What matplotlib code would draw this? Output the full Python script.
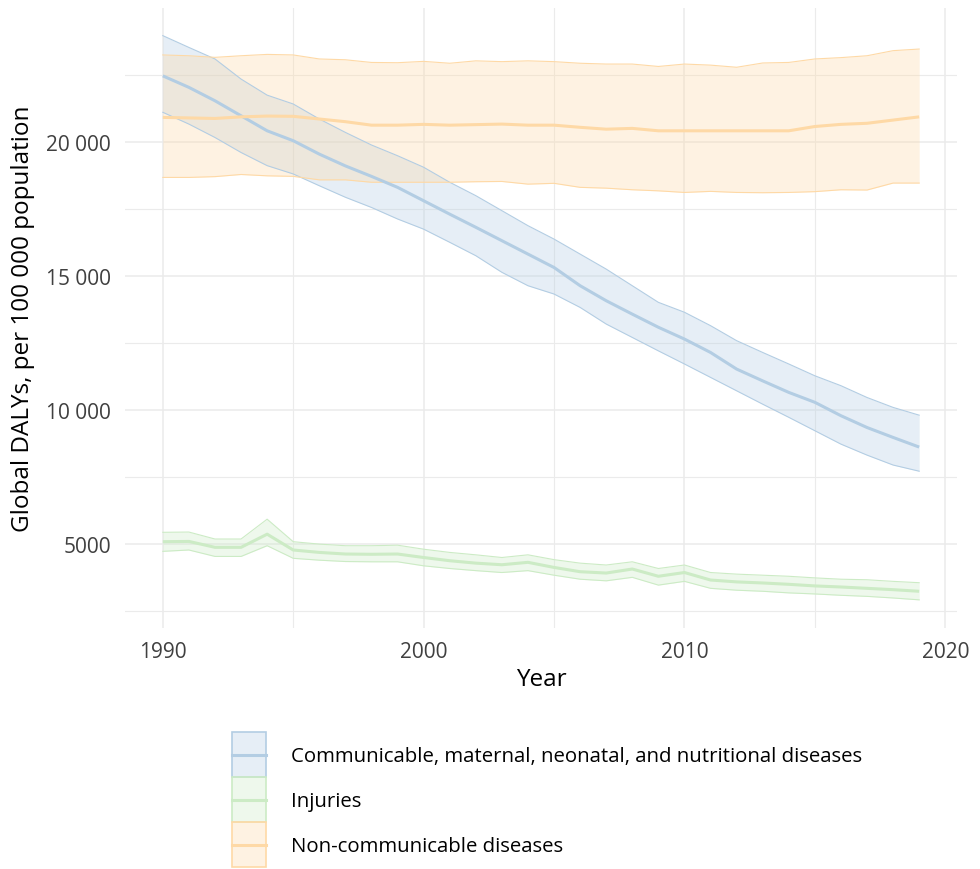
import matplotlib
matplotlib.use("Agg")
import matplotlib.pyplot as plt
from matplotlib.colors import to_rgba
from matplotlib.lines import Line2D
from matplotlib.patches import Rectangle

plt.rcParams['font.family'] = ['Open Sans', 'DejaVu Sans']

years = list(range(1990, 2020))

# Communicable, maternal, neonatal, and nutritional diseases
cmnn_mean = [22470, 22040, 21540, 20980, 20420, 20050, 19550, 19110, 18720, 18310,
             17810, 17310, 16820, 16320, 15820, 15320, 14640, 14080, 13580, 13090,
             12650, 12150, 11530, 11090, 10660, 10290, 9790, 9350, 8980, 8620]
cmnn_upper = [23970, 23530, 23100, 22350, 21750, 21420, 20860, 20360, 19890, 19490,
              19060, 18500, 18000, 17440, 16880, 16380, 15820, 15260, 14640, 14020,
              13650, 13150, 12590, 12150, 11720, 11280, 10910, 10470, 10100, 9810]
cmnn_lower = [21110, 20670, 20170, 19610, 19120, 18810, 18370, 17940, 17560, 17130,
              16750, 16260, 15760, 15140, 14640, 14330, 13830, 13210, 12710, 12210,
              11720, 11220, 10720, 10220, 9730, 9230, 8730, 8320, 7950, 7720]

# Injuries
inj_mean = [5090, 5100, 4880, 4880, 5370, 4780, 4690, 4630, 4620, 4630,
            4500, 4380, 4290, 4230, 4320, 4130, 3970, 3920, 4070, 3800,
            3940, 3660, 3590, 3550, 3500, 3440, 3400, 3350, 3300, 3240]
inj_upper = [5440, 5450, 5190, 5190, 5930, 5090, 5000, 4940, 4940, 4960,
             4810, 4690, 4600, 4500, 4600, 4420, 4290, 4220, 4340, 4090,
             4220, 3940, 3880, 3840, 3800, 3740, 3690, 3670, 3610, 3560]
inj_lower = [4730, 4780, 4540, 4540, 4940, 4470, 4400, 4350, 4340, 4340,
             4190, 4090, 4010, 3940, 4010, 3840, 3690, 3630, 3760, 3470,
             3610, 3350, 3280, 3240, 3180, 3140, 3090, 3050, 2990, 2920]

# Non-communicable diseases
ncd_mean = [20920, 20900, 20880, 20940, 20970, 20960, 20860, 20760, 20630, 20630,
            20660, 20630, 20650, 20670, 20630, 20630, 20550, 20480, 20510, 20420,
            20420, 20420, 20420, 20420, 20420, 20580, 20660, 20700, 20820, 20940]
ncd_upper = [23250, 23220, 23160, 23220, 23270, 23250, 23100, 23070, 22970, 22960,
             23010, 22940, 23030, 23000, 23030, 23000, 22940, 22910, 22910, 22820,
             22910, 22870, 22790, 22950, 22970, 23100, 23150, 23220, 23410, 23470]
ncd_lower = [18680, 18680, 18710, 18790, 18740, 18720, 18590, 18590, 18500, 18500,
             18500, 18500, 18520, 18530, 18430, 18460, 18310, 18280, 18220, 18180,
             18120, 18160, 18120, 18110, 18120, 18150, 18220, 18210, 18470, 18470]

labels = ["Communicable, maternal, neonatal, and nutritional diseases",
          "Injuries",
          "Non-communicable diseases"]
colors = ["#b3cde3", "#ccebc5", "#fed9a6"]

series = [
    (cmnn_mean, cmnn_lower, cmnn_upper),
    (inj_mean, inj_lower, inj_upper),
    (ncd_mean, ncd_lower, ncd_upper),
]

y_ticks = [5000, 10000, 15000, 20000]
y_ticklabels = ["5000", "10 000", "15 000", "20 000"]
x_ticks = [1990, 2000, 2010, 2020]

FILL_ALPHA = 0.32


class RibbonKey:
    """Legend key: filled outlined box with the mean line through its middle."""

    def legend_artist(self, legend, orig_handle, fontsize, handlebox):
        col = orig_handle.get_color()
        x0, y0 = -handlebox.xdescent, -handlebox.ydescent
        w, h = handlebox.width, handlebox.height
        tr = handlebox.get_transform()
        box = Rectangle((x0, y0), w, h, facecolor=to_rgba(col, FILL_ALPHA),
                        edgecolor=col, linewidth=1.2, transform=tr)
        line = Line2D([x0, x0 + w], [y0 + h / 2] * 2, color=col,
                      linewidth=2.2, transform=tr)
        handlebox.add_artist(box)
        handlebox.add_artist(line)
        return box


fig = plt.figure(figsize=(9.8, 8.7), dpi=100)
ax = fig.add_axes([125 / 980, 1 - 629 / 870, (957 - 125) / 980, (629 - 8.5) / 870])

for (mean, lo, hi), col in zip(series, colors):
    ax.fill_between(years, lo, hi, color=col, alpha=FILL_ALPHA, linewidth=0)
    ax.plot(years, lo, color=col, linewidth=0.8)
    ax.plot(years, hi, color=col, linewidth=0.8)
for (mean, lo, hi), col in zip(series, colors):
    ax.plot(years, mean, color=col, linewidth=2.2, solid_capstyle='butt')

ax.set_xlim(1988.55, 2020.45)
ax.set_ylim(1870, 25020)
ax.set_xticks(x_ticks)
ax.set_xticks([1995, 2005, 2015], minor=True)
ax.set_yticks(y_ticks)
ax.set_yticklabels(y_ticklabels)
ax.set_yticks([2500, 7500, 12500, 17500, 22500], minor=True)

ax.grid(True, which='major', color='#ebebeb', linewidth=1.1)
ax.grid(True, which='minor', color='#ebebeb', linewidth=0.8)
ax.set_axisbelow(True)
for s in ax.spines.values():
    s.set_visible(False)
ax.tick_params(which='both', length=0)
ax.tick_params(axis='both', labelsize=15, labelcolor='#404040')
ax.tick_params(axis='y', pad=10)
ax.tick_params(axis='x', pad=9)

ax.set_xlabel("Year", fontsize=17.5, labelpad=4)
ax.set_ylabel("Global DALYs, per 100 000 population", fontsize=17.5, labelpad=8)

handles = [Line2D([], [], color=c) for c in colors]
fig.legend(handles, labels, loc='upper left', bbox_to_anchor=(232 / 980, 1 - 733 / 870),
           handler_map={Line2D: RibbonKey()},
           frameon=False, fontsize=14.7, borderpad=0, borderaxespad=0,
           handlelength=1.65, handleheight=3.02, labelspacing=0, handletextpad=1.25)

fig.savefig("out.png", dpi=100)
